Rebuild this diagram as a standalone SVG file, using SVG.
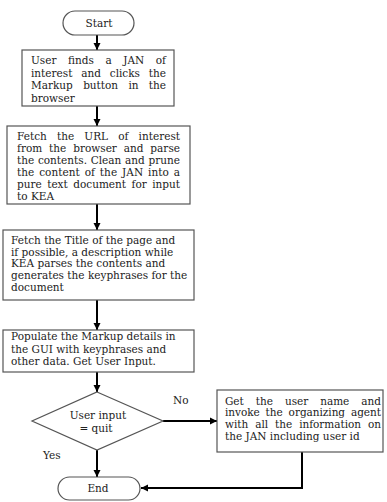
<svg xmlns="http://www.w3.org/2000/svg" width="387" height="502" viewBox="0 0 387 502">
<defs>
<marker id="ah" markerUnits="userSpaceOnUse" markerWidth="8" markerHeight="8" refX="7" refY="4" orient="auto">
<path d="M0,0.5 L7,4 L0,7.5 Z" fill="#000"/>
</marker>
<style>
.box{fill:#fff;stroke:#555;stroke-width:1.2}
.t{font-family:"DejaVu Serif","Liberation Serif",serif;font-size:10.5px;fill:#222}
.c{text-anchor:middle}
.con{fill:none;stroke:#000;stroke-width:2}
</style>
</defs>
<rect width="387" height="502" fill="#fff"/>
<g id="connectors">
<line class="con" x1="97" y1="35" x2="97" y2="50" marker-end="url(#ah)"/>
<line class="con" x1="97" y1="106" x2="97" y2="126" marker-end="url(#ah)"/>
<line class="con" x1="97" y1="204" x2="97" y2="230" marker-end="url(#ah)"/>
<line class="con" x1="97" y1="300" x2="97" y2="330" marker-end="url(#ah)"/>
<line class="con" x1="97" y1="372" x2="97" y2="392" marker-end="url(#ah)"/>
<line class="con" x1="97" y1="450" x2="97" y2="477" marker-end="url(#ah)"/>
<line class="con" x1="163" y1="421" x2="217" y2="421" marker-end="url(#ah)"/>
<polyline class="con" points="302,452 302,488 141,488" marker-end="url(#ah)"/>
<text class="t" x="173" y="404">No</text>
<text class="t" x="43" y="459">Yes</text>
</g>
<g id="start">
<rect class="box" x="63" y="11" width="71" height="24" rx="12"/>
<text class="t c" x="99" y="27">Start</text>
</g>
<g id="box1">
<rect class="box" x="22" y="50" width="152" height="56"/>
<text class="t" x="31" y="64" word-spacing="8.2" textLength="135" lengthAdjust="spacing">User finds a JAN of</text>
<text class="t" x="31" y="76.5" word-spacing="5.5" textLength="135" lengthAdjust="spacing">interest and clicks the</text>
<text class="t" x="31" y="89" word-spacing="7" textLength="135" lengthAdjust="spacing">Markup button in the</text>
<text class="t" x="31" y="101.5">browser</text>
</g>
<g id="box2">
<rect class="box" x="7" y="126" width="183" height="78"/>
<text class="t" x="17" y="140" word-spacing="6.8" textLength="163" lengthAdjust="spacing">Fetch the URL of interest</text>
<text class="t" x="17" y="152" word-spacing="3.5" textLength="163" lengthAdjust="spacing">from the browser and parse</text>
<text class="t" x="17" y="164" word-spacing="0.4" textLength="163" lengthAdjust="spacing">the contents. Clean and prune</text>
<text class="t" x="17" y="176" word-spacing="1.6" textLength="163" lengthAdjust="spacing">the content of the JAN into a</text>
<text class="t" x="17" y="188" word-spacing="2.1" textLength="163" lengthAdjust="spacing">pure text document for input</text>
<text class="t" x="17" y="200">to KEA</text>
</g>
<g id="box3">
<rect class="box" x="3" y="230" width="191" height="70"/>
<text class="t" x="11" y="244">Fetch the Title of the page and</text>
<text class="t" x="11" y="255.5">if possible, a description while</text>
<text class="t" x="11" y="267">KEA parses the contents and</text>
<text class="t" x="11" y="279">generates the keyphrases for the</text>
<text class="t" x="11" y="290.5">document</text>
</g>
<g id="box4">
<rect class="box" x="3" y="330" width="191" height="42"/>
<text class="t" x="11" y="340">Populate the Markup details in</text>
<text class="t" x="11" y="352.5">the GUI with keyphrases and</text>
<text class="t" x="11" y="365">other data. Get User Input.</text>
</g>
<g id="decision">
<polygon class="box" points="97,392 163,421 97,450 32,421"/>
<text class="t c" x="98" y="419">User input</text>
<text class="t c" x="96" y="432">= quit</text>
</g>
<g id="box5">
<rect class="box" x="217" y="390" width="166" height="62"/>
<text class="t" x="225" y="404.5" word-spacing="8.8" textLength="156" lengthAdjust="spacing">Get the user name and</text>
<text class="t" x="225" y="416" word-spacing="2.6" textLength="156" lengthAdjust="spacing">invoke the organizing agent</text>
<text class="t" x="225" y="427.5" word-spacing="3.7" textLength="156" lengthAdjust="spacing">with all the information on</text>
<text class="t" x="225" y="439.5">the JAN including user id</text>
</g>
<g id="end">
<rect class="box" x="58" y="477" width="82" height="23" rx="11.5"/>
<text class="t c" x="98" y="492">End</text>
</g>
</svg>
